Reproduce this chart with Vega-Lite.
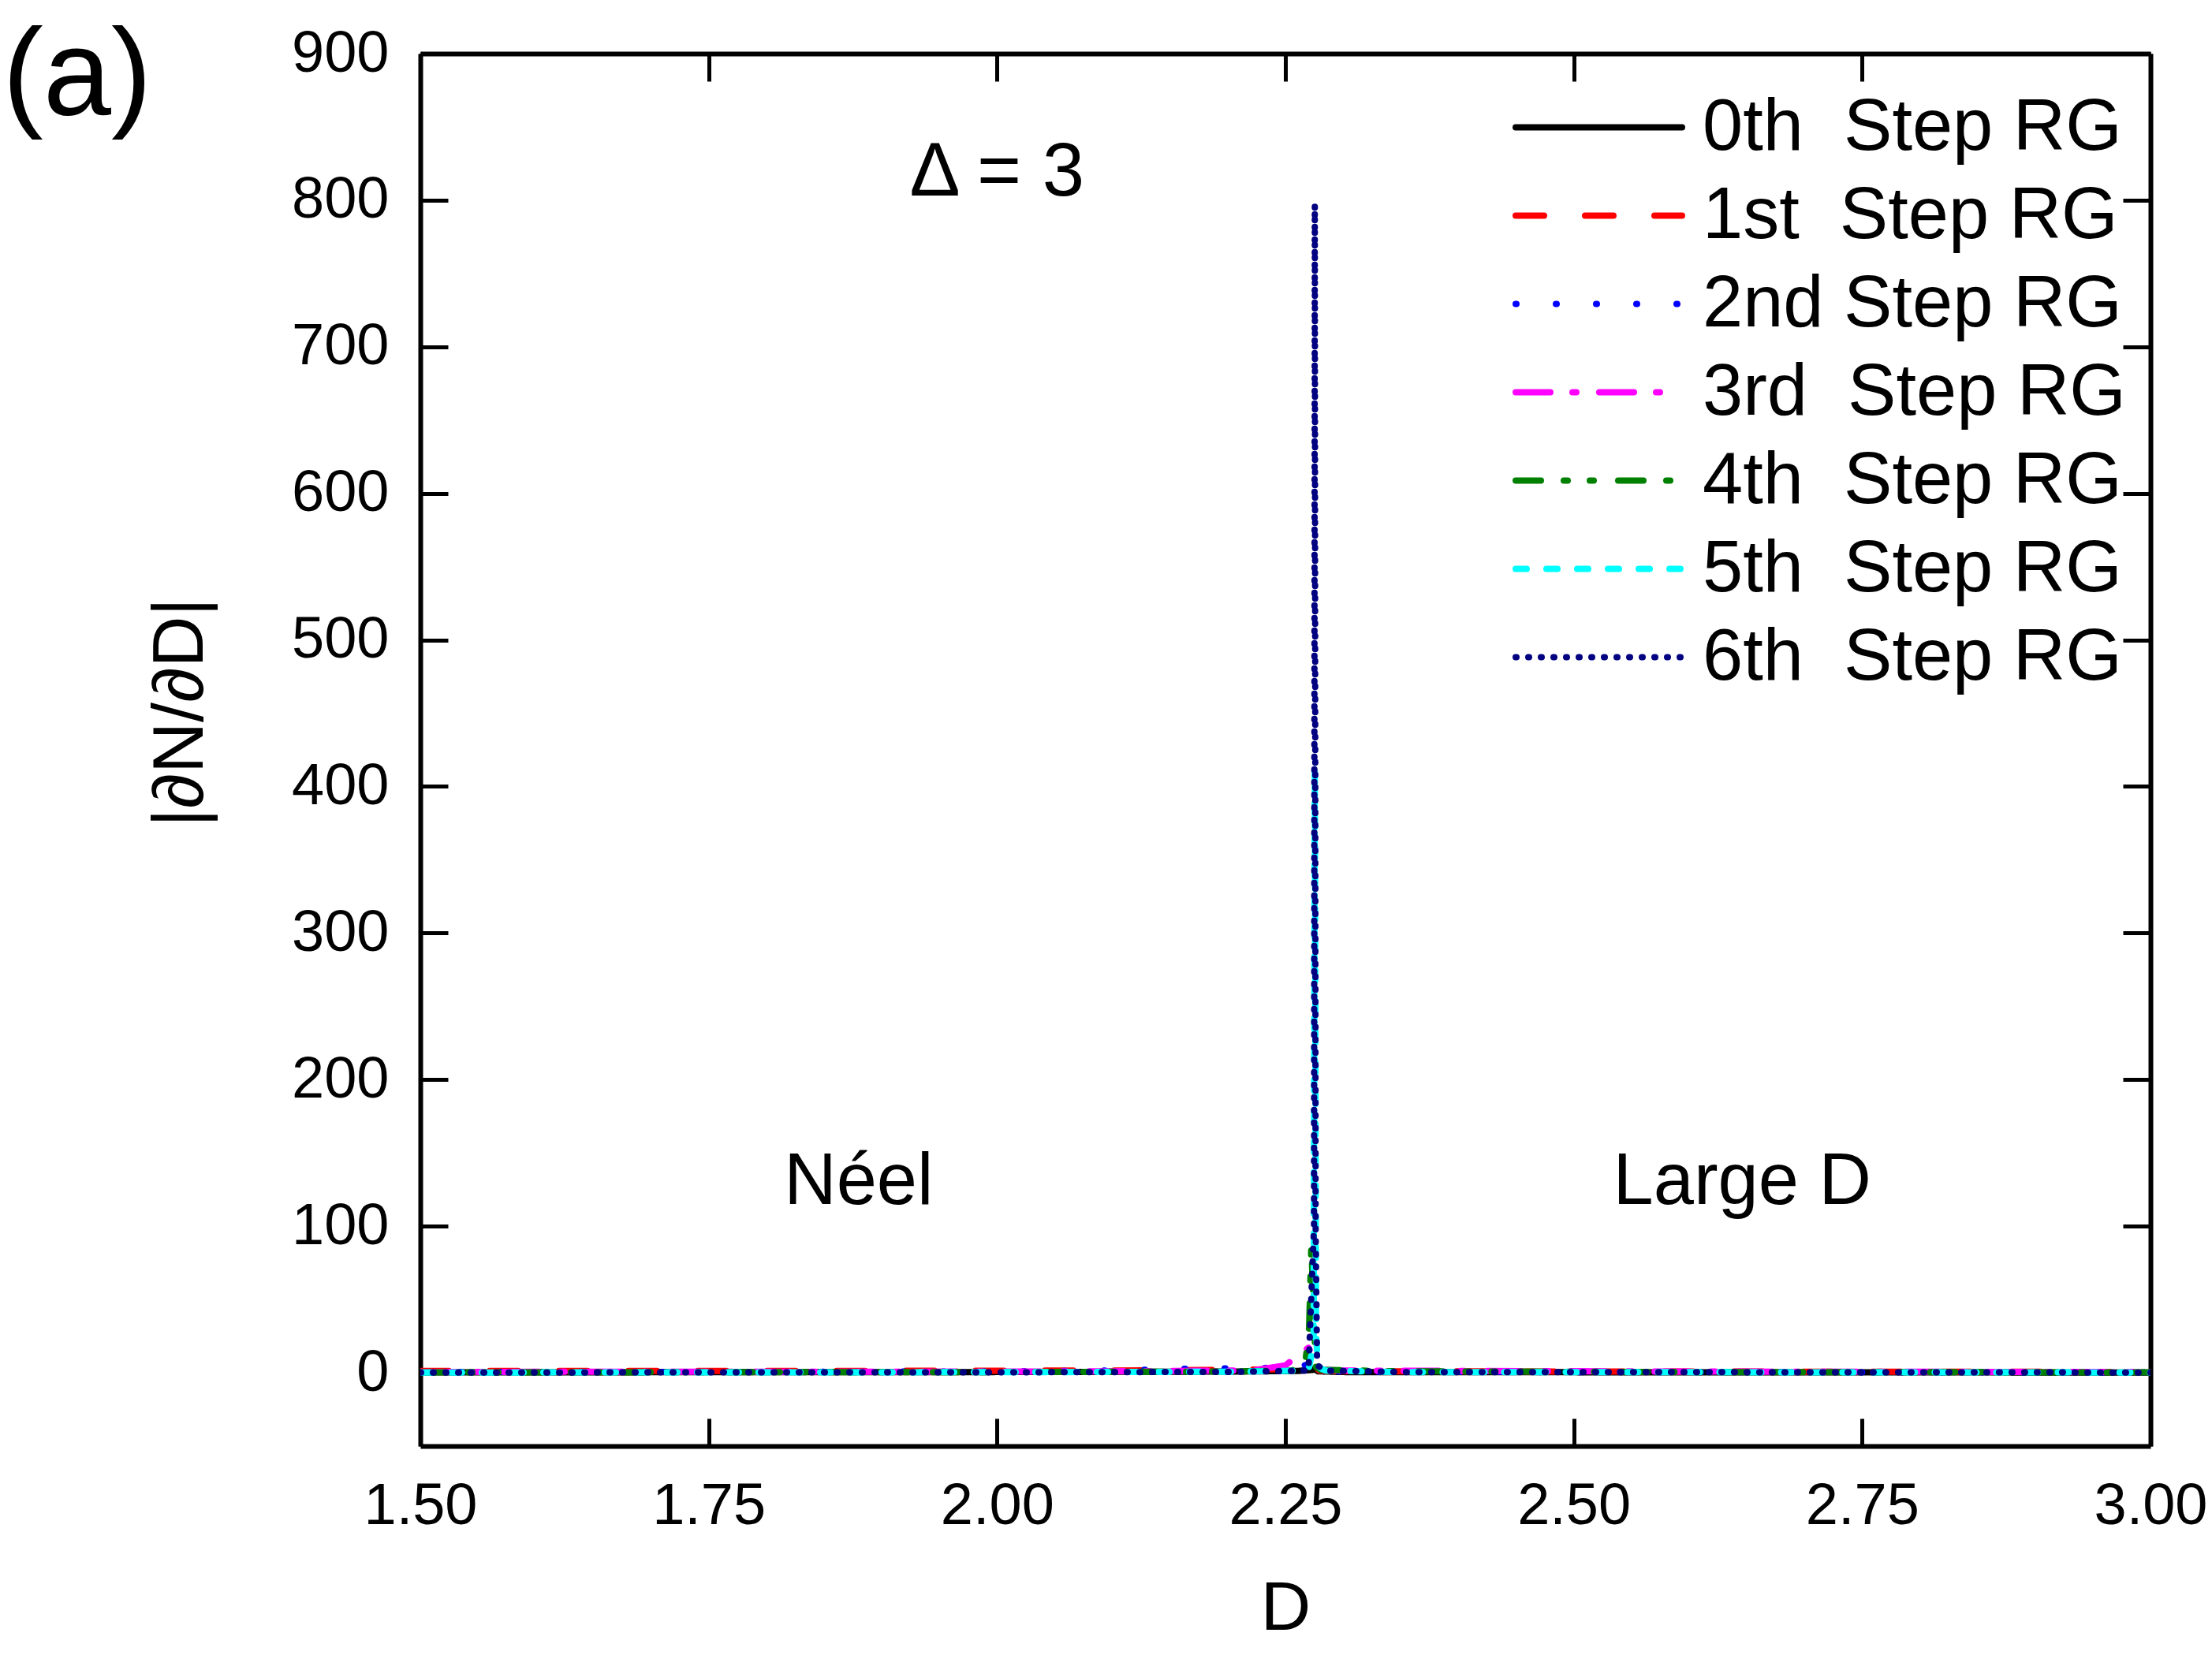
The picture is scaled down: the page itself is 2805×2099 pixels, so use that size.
{
  "$schema": "https://vega.github.io/schema/vega-lite/v6.json",
  "autosize": "none",
  "width": 2194,
  "height": 1766,
  "padding": {"left": 533, "top": 68, "right": 78, "bottom": 265},
  "background": "white",
  "config": {
    "font": "Liberation Sans",
    "view": {"stroke": null},
    "axis": {
      "grid": false,
      "domainColor": "black",
      "domainWidth": 6,
      "tickColor": "black",
      "tickWidth": 5,
      "tickSize": -35,
      "labelFont": "Liberation Sans",
      "labelFontSize": 74,
      "labelColor": "black",
      "labelFlush": false,
      "labelPadding": 75,
      "titleFont": "Liberation Sans",
      "titleFontSize": 88,
      "titleFontWeight": "normal",
      "titleColor": "black"
    }
  },
  "layer": [
    {
      "data": {
        "values": [
          {"D": 1.5, "v": 0.3, "s": "0th\u00a0 Step RG"},
          {"D": 1.8, "v": 0.4, "s": "0th\u00a0 Step RG"},
          {"D": 2.0, "v": 0.5, "s": "0th\u00a0 Step RG"},
          {"D": 2.2, "v": 0.8, "s": "0th\u00a0 Step RG"},
          {"D": 2.26, "v": 1.2, "s": "0th\u00a0 Step RG"},
          {"D": 2.274, "v": 2, "s": "0th\u00a0 Step RG"},
          {"D": 2.2755, "v": 3, "s": "0th\u00a0 Step RG"},
          {"D": 2.278, "v": 1, "s": "0th\u00a0 Step RG"},
          {"D": 2.3, "v": 0.5, "s": "0th\u00a0 Step RG"},
          {"D": 2.6, "v": 0.3, "s": "0th\u00a0 Step RG"},
          {"D": 3.0, "v": 0.2, "s": "0th\u00a0 Step RG"},

          {"D": 1.5, "v": 1.2, "s": "1st\u00a0 Step RG"},
          {"D": 1.7, "v": 1.3, "s": "1st\u00a0 Step RG"},
          {"D": 1.9, "v": 1.3, "s": "1st\u00a0 Step RG"},
          {"D": 2.1, "v": 1.5, "s": "1st\u00a0 Step RG"},
          {"D": 2.2, "v": 2, "s": "1st\u00a0 Step RG"},
          {"D": 2.25, "v": 2.5, "s": "1st\u00a0 Step RG"},
          {"D": 2.27, "v": 3.5, "s": "1st\u00a0 Step RG"},
          {"D": 2.2755, "v": 6, "s": "1st\u00a0 Step RG"},
          {"D": 2.279, "v": 1.5, "s": "1st\u00a0 Step RG"},
          {"D": 2.3, "v": 1, "s": "1st\u00a0 Step RG"},
          {"D": 2.6, "v": 0.8, "s": "1st\u00a0 Step RG"},
          {"D": 3.0, "v": 0.6, "s": "1st\u00a0 Step RG"},

          {"D": 1.5, "v": 0.5, "s": "2nd Step RG"},
          {"D": 1.8, "v": 0.6, "s": "2nd Step RG"},
          {"D": 2.0, "v": 0.9, "s": "2nd Step RG"},
          {"D": 2.1, "v": 1.5, "s": "2nd Step RG"},
          {"D": 2.15, "v": 2.5, "s": "2nd Step RG"},
          {"D": 2.19, "v": 3, "s": "2nd Step RG"},
          {"D": 2.22, "v": 3.2, "s": "2nd Step RG"},
          {"D": 2.25, "v": 3.5, "s": "2nd Step RG"},
          {"D": 2.265, "v": 4.5, "s": "2nd Step RG"},
          {"D": 2.2755, "v": 8, "s": "2nd Step RG"},
          {"D": 2.279, "v": 2, "s": "2nd Step RG"},
          {"D": 2.3, "v": 0.6, "s": "2nd Step RG"},
          {"D": 2.6, "v": 0.4, "s": "2nd Step RG"},
          {"D": 3.0, "v": 0.3, "s": "2nd Step RG"},

          {"D": 1.5, "v": 0.6, "s": "3rd\u00a0 Step RG"},
          {"D": 1.8, "v": 0.7, "s": "3rd\u00a0 Step RG"},
          {"D": 2.0, "v": 0.8, "s": "3rd\u00a0 Step RG"},
          {"D": 2.1, "v": 1, "s": "3rd\u00a0 Step RG"},
          {"D": 2.2, "v": 1.5, "s": "3rd\u00a0 Step RG"},
          {"D": 2.223, "v": 1.8, "s": "3rd\u00a0 Step RG"},
          {"D": 2.25, "v": 5, "s": "3rd\u00a0 Step RG"},
          {"D": 2.264, "v": 14, "s": "3rd\u00a0 Step RG"},
          {"D": 2.27, "v": 17, "s": "3rd\u00a0 Step RG"},
          {"D": 2.2755, "v": 9, "s": "3rd\u00a0 Step RG"},
          {"D": 2.28, "v": 2, "s": "3rd\u00a0 Step RG"},
          {"D": 2.3, "v": 1.5, "s": "3rd\u00a0 Step RG"},
          {"D": 2.6, "v": 0.8, "s": "3rd\u00a0 Step RG"},
          {"D": 3.0, "v": 0.5, "s": "3rd\u00a0 Step RG"},

          {"D": 1.5, "v": 0.3, "s": "4th\u00a0 Step RG"},
          {"D": 1.8, "v": 0.4, "s": "4th\u00a0 Step RG"},
          {"D": 2.0, "v": 0.5, "s": "4th\u00a0 Step RG"},
          {"D": 2.2, "v": 0.8, "s": "4th\u00a0 Step RG"},
          {"D": 2.255, "v": 1.5, "s": "4th\u00a0 Step RG"},
          {"D": 2.267, "v": 5, "s": "4th\u00a0 Step RG"},
          {"D": 2.2705, "v": 30, "s": "4th\u00a0 Step RG"},
          {"D": 2.2725, "v": 87, "s": "4th\u00a0 Step RG"},
          {"D": 2.2745, "v": 40, "s": "4th\u00a0 Step RG"},
          {"D": 2.2765, "v": 4, "s": "4th\u00a0 Step RG"},
          {"D": 2.28, "v": 2, "s": "4th\u00a0 Step RG"},
          {"D": 2.35, "v": 1, "s": "4th\u00a0 Step RG"},
          {"D": 2.6, "v": 0.5, "s": "4th\u00a0 Step RG"},
          {"D": 3.0, "v": 0.3, "s": "4th\u00a0 Step RG"},

          {"D": 1.5, "v": 0.2, "s": "5th\u00a0 Step RG"},
          {"D": 1.8, "v": 0.3, "s": "5th\u00a0 Step RG"},
          {"D": 2.0, "v": 0.4, "s": "5th\u00a0 Step RG"},
          {"D": 2.2, "v": 0.7, "s": "5th\u00a0 Step RG"},
          {"D": 2.27, "v": 1.5, "s": "5th\u00a0 Step RG"},
          {"D": 2.2745, "v": 20, "s": "5th\u00a0 Step RG"},
          {"D": 2.2755, "v": 412, "s": "5th\u00a0 Step RG"},
          {"D": 2.2765, "v": 30, "s": "5th\u00a0 Step RG"},
          {"D": 2.278, "v": 4, "s": "5th\u00a0 Step RG"},
          {"D": 2.285, "v": 1.5, "s": "5th\u00a0 Step RG"},
          {"D": 2.35, "v": 0.5, "s": "5th\u00a0 Step RG"},
          {"D": 3.0, "v": 0.2, "s": "5th\u00a0 Step RG"},

          {"D": 1.5, "v": 0.2, "s": "6th\u00a0 Step RG"},
          {"D": 2.0, "v": 0.3, "s": "6th\u00a0 Step RG"},
          {"D": 2.2, "v": 0.6, "s": "6th\u00a0 Step RG"},
          {"D": 2.27, "v": 1.5, "s": "6th\u00a0 Step RG"},
          {"D": 2.2748, "v": 100, "s": "6th\u00a0 Step RG"},
          {"D": 2.2755, "v": 797, "s": "6th\u00a0 Step RG"},
          {"D": 2.2762, "v": 100, "s": "6th\u00a0 Step RG"},
          {"D": 2.2775, "v": 5, "s": "6th\u00a0 Step RG"},
          {"D": 2.285, "v": 1.5, "s": "6th\u00a0 Step RG"},
          {"D": 2.35, "v": 0.5, "s": "6th\u00a0 Step RG"},
          {"D": 3.0, "v": 0.2, "s": "6th\u00a0 Step RG"}
        ]
      },
      "mark": {"type": "line", "strokeWidth": 8, "strokeCap": "round", "strokeJoin": "round", "clip": true},
      "encoding": {
        "x": {
          "field": "D", "type": "quantitative",
          "scale": {"domain": [1.5, 3.0], "nice": false, "zero": false},
          "axis": {"orient": "bottom", "values": [1.5, 1.75, 2.0, 2.25, 2.5, 2.75, 3.0], "format": ".2f", "title": "D", "titleY": 206, "titleBaseline": "middle"}
        },
        "y": {
          "field": "v", "type": "quantitative",
          "scale": {"domain": [-50, 900], "nice": false, "zero": false},
          "axis": {"orient": "left", "values": [0, 100, 200, 300, 400, 500, 600, 700, 800, 900], "title": "|∂N/∂D|", "titleX": -304, "titleY": 835, "titleAngle": -90, "titleAlign": "center", "titleBaseline": "middle", "titleFontSize": 90}
        },
        "color": {
          "field": "s", "type": "nominal",
          "scale": {
            "domain": ["0th\u00a0 Step RG", "1st\u00a0 Step RG", "2nd Step RG", "3rd\u00a0 Step RG", "4th\u00a0 Step RG", "5th\u00a0 Step RG", "6th\u00a0 Step RG"],
            "range": ["#000000", "#FF0000", "#0000FF", "#FF00FF", "#008000", "#00FFFF", "#000080"]
          },
          "legend": {
            "title": null,
            "orient": "none",
            "legendX": 1385,
            "legendY": 46,
            "symbolType": "stroke",
            "symbolSize": 44521,
            "symbolStrokeWidth": 8,
            "clipHeight": 95,
            "labelFontSize": 92,
            "labelFont": "Liberation Sans",
            "labelColor": "black",
            "labelLimit": 1200,
            "labelOffset": 22,
            "rowPadding": 17,
            "encode": {"symbols": {"update": {"strokeCap": {"value": "round"}}}}
          }
        },
        "strokeDash": {
          "field": "s", "type": "nominal",
          "scale": {
            "domain": ["0th\u00a0 Step RG", "1st\u00a0 Step RG", "2nd Step RG", "3rd\u00a0 Step RG", "4th\u00a0 Step RG", "5th\u00a0 Step RG", "6th\u00a0 Step RG"],
            "range": [[1, 0], [36, 52], [1, 50], [44, 28, 5, 29], [32, 29, 5, 28, 5, 31], [14, 25], [1, 15]]
          },
          "legend": null
        }
      }
    },
    {
      "data": {
        "values": [
          {"D": 2.0, "v": 819, "t": "Δ = 3", "fs": 96},
          {"D": 1.88, "v": 130, "t": "Néel", "fs": 92},
          {"D": 2.646, "v": 130, "t": "Large D", "fs": 92},
          {"D": 1.2025, "v": 884, "t": "(a)", "fs": 155}
        ]
      },
      "mark": {"type": "text", "align": "center", "baseline": "middle", "font": "Liberation Sans", "color": "black"},
      "encoding": {
        "x": {
          "field": "D", "type": "quantitative",
          "scale": {"domain": [1.5, 3.0], "nice": false, "zero": false},
          "axis": {"orient": "top", "values": [1.5, 1.75, 2.0, 2.25, 2.5, 2.75, 3.0], "labels": false, "title": null}
        },
        "y": {
          "field": "v", "type": "quantitative",
          "scale": {"domain": [-50, 900], "nice": false, "zero": false},
          "axis": {"orient": "right", "values": [0, 100, 200, 300, 400, 500, 600, 700, 800, 900], "labels": false, "title": null}
        },
        "text": {"field": "t"},
        "size": {"field": "fs", "type": "quantitative", "scale": null}
      }
    }
  ],
  "resolve": {"scale": {"x": "independent", "y": "independent"}}
}
